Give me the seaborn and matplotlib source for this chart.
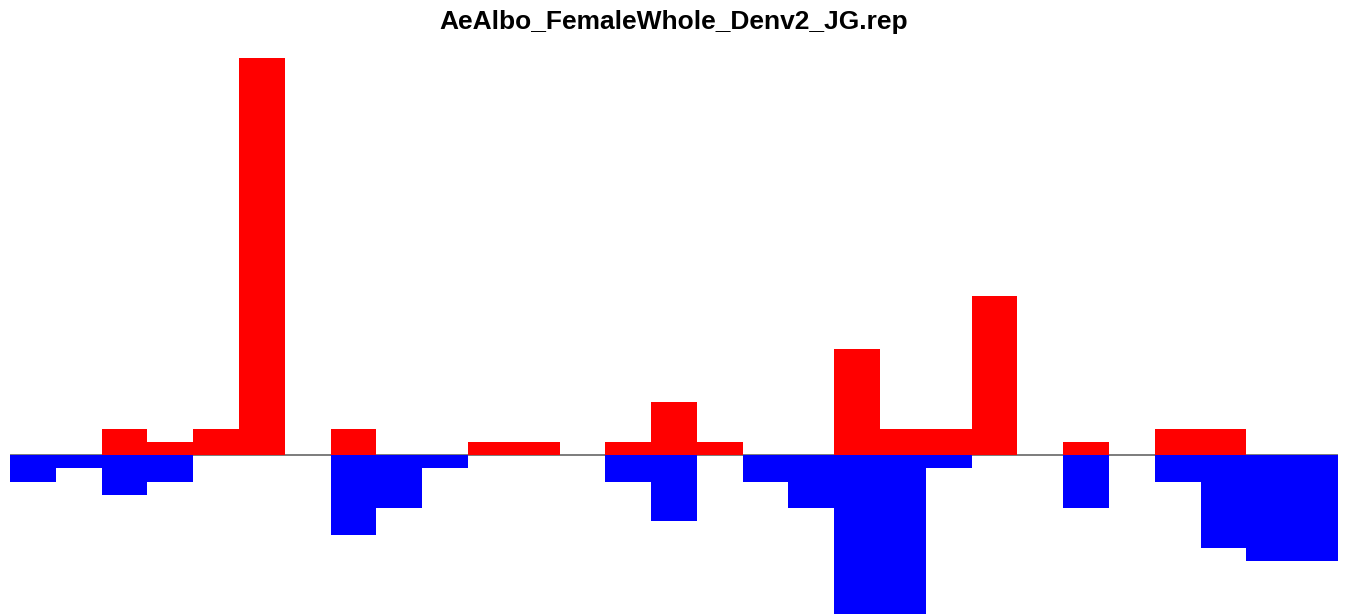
import matplotlib
matplotlib.use("Agg")
import matplotlib.pyplot as plt
import seaborn as sns
import numpy as np
import pandas as pd

# ---------------------------------------------------------------------------
# Data
# ---------------------------------------------------------------------------
TITLE = "AeAlbo_FemaleWhole_Denv2_JG.rep"

bins = list(range(29))
up_counts = [0, 0, 2, 1, 2, 30, 0, 2, 0, 0, 1, 1, 0, 1, 4, 1, 0, 0,
             8, 2, 2, 12, 0, 1, 0, 2, 2, 0, 0]
down_counts = [-2, -1, -3, -2, 0, 0, 0, -6, -4, -1, 0, 0, 0, -2, -5, 0, -2, -4,
               -12, -12, -1, 0, 0, -4, 0, -2, -7, -8, -8]

df = pd.DataFrame({"bin": bins, "up": up_counts, "down": down_counts})

sns.set_style("white")
plt.rcParams["font.family"] = ["Liberation Sans", "DejaVu Sans"]

fig = plt.figure(figsize=(13.47, 6.14), dpi=100)
ax = fig.add_axes([10 / 1347, 0, 1328 / 1347, 556 / 614])

ax.axhline(0, color="#666666", lw=1.2, zorder=0)
sns.barplot(data=df, x="bin", y="up", color="#ff0000", width=1.0,
            linewidth=0, saturation=1, ax=ax, zorder=2)
sns.barplot(data=df, x="bin", y="down", color="#0000ff", width=1.0,
            linewidth=0, saturation=1, ax=ax, zorder=2)

ax.set_xlim(-0.5, len(bins) - 0.5)
ax.set_ylim(-12, 30)
ax.set_axis_off()

fig.suptitle(TITLE, fontsize=19, fontweight="bold", color="black",
             y=1 - 22 / 614, va="center")

fig.savefig("out.png", dpi=100)
plt.close(fig)
